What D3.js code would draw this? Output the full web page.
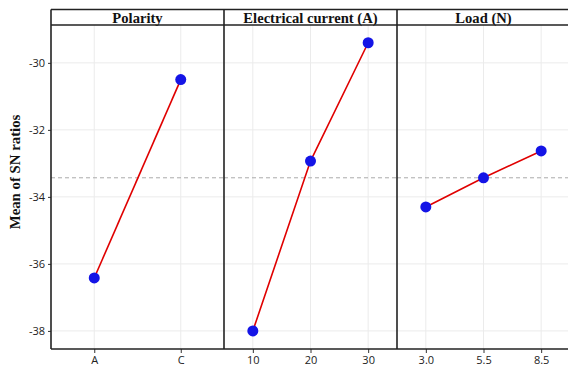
<!DOCTYPE html>
<html lang="en">
<head>
    <meta charset="UTF-8">
    <title>Main effects plot for SN ratios</title>
    <script src="https://d3js.org/d3.v7.min.js"></script>
    <style>
        body { margin: 0; background: #fff; }
        .tick text { font-family: "Open Sans", "Noto Sans", sans-serif; font-size: 11px; fill: #222; }
        .strip { font-family: "Liberation Serif", "Times New Roman", serif; font-weight: bold; font-size: 14.6px; fill: #111; }
        .ytitle { font-family: "Liberation Serif", "Times New Roman", serif; font-weight: bold; font-size: 14.8px; fill: #111; }
    </style>
</head>
<body>
    <script>
        // Factors and their levels
        const factors = ["Polarity", "Electrical current (A)", "Load (N)"];
        const polarityLevels = ["A", "C"];
        const currentLevels = ["10", "20", "30"];
        const loadLevels = ["3.0", "5.5", "8.5"];

        // Mean SN ratios
        const polarityValues = [-36.42, -30.5];
        const currentValues = [-38.0, -32.93, -29.4];
        const loadValues = [-34.3, -33.43, -32.63];

        const yTicks = [-30, -32, -34, -36, -38];
        const grandMean = -33.43;

        const width = 568, height = 368;
        const mLeft = 51, mRight = 570, plotTop = 25, stripTop = 9.5, plotBottom = 349;

        const svg = d3.select("body").append("svg")
            .attr("width", width)
            .attr("height", height);

        const panels = [
            { name: factors[0], levels: polarityLevels, values: polarityValues },
            { name: factors[1], levels: currentLevels, values: currentValues },
            { name: factors[2], levels: loadLevels, values: loadValues }
        ];

        const y = d3.scaleLinear().domain([-38.54, -28.87]).range([plotBottom, plotTop]);

        const panelX = d3.scaleBand().domain(factors).range([mLeft, mRight]);
        const pw = panelX.bandwidth();

        panels.forEach(p => {
            const x0 = panelX(p.name);
            const x = d3.scalePoint().domain(p.levels).range([x0, x0 + pw]).padding(0.5);

            const g = svg.append("g");

            // grid
            g.selectAll(".hg").data(yTicks).enter().append("line")
                .attr("x1", x0).attr("x2", x0 + pw)
                .attr("y1", d => y(d)).attr("y2", d => y(d))
                .attr("stroke", "#ebebeb").attr("stroke-width", 1);
            g.selectAll(".vg").data(p.levels).enter().append("line")
                .attr("x1", d => x(d)).attr("x2", d => x(d))
                .attr("y1", plotTop).attr("y2", plotBottom)
                .attr("stroke", "#ebebeb").attr("stroke-width", 1);

            // grand mean
            g.append("line")
                .attr("x1", x0).attr("x2", x0 + pw)
                .attr("y1", y(grandMean)).attr("y2", y(grandMean))
                .attr("stroke", "#aaa").attr("stroke-width", 1)
                .attr("stroke-dasharray", "4,3");

            // line + points
            const pts = p.levels.map((l, i) => [x(l), y(p.values[i])]);
            g.append("path")
                .attr("d", d3.line()(pts))
                .attr("fill", "none").attr("stroke", "#e00000").attr("stroke-width", 1.6);
            g.selectAll("circle").data(pts).enter().append("circle")
                .attr("cx", d => d[0]).attr("cy", d => d[1]).attr("r", 5.5)
                .attr("fill", "#1414e6");

            // x axis
            const ax = svg.append("g").attr("transform", `translate(0,${plotBottom})`)
                .call(d3.axisBottom(x).tickSize(4).tickPadding(3));
            ax.select(".domain").remove();
            ax.selectAll(".tick line").attr("stroke", "#333");

            // strip label
            svg.append("text").attr("class", "strip")
                .attr("x", x0 + pw / 2).attr("y", plotTop - 2)
                .attr("text-anchor", "middle").text(p.name);

            // panel separator
            if (x0 > mLeft) {
                svg.append("line").attr("x1", x0).attr("x2", x0)
                    .attr("y1", stripTop).attr("y2", plotBottom)
                    .attr("stroke", "#222").attr("stroke-width", 1.6);
            }
        });

        // strip borders
        svg.append("line").attr("x1", mLeft).attr("x2", mRight).attr("y1", stripTop).attr("y2", stripTop)
            .attr("stroke", "#222").attr("stroke-width", 1.6);
        svg.append("line").attr("x1", mLeft).attr("x2", mRight).attr("y1", plotTop).attr("y2", plotTop)
            .attr("stroke", "#222").attr("stroke-width", 1.6);

        // y axis
        const ay = svg.append("g").attr("transform", `translate(${mLeft},0)`)
            .call(d3.axisLeft(y).tickValues(yTicks).tickFormat(d => String(d)).tickSize(3).tickPadding(3));
        ay.select(".domain").remove();
        ay.selectAll(".tick line").attr("stroke", "#333");
        svg.append("line").attr("x1", mLeft).attr("x2", mLeft).attr("y1", stripTop).attr("y2", plotBottom)
            .attr("stroke", "#222").attr("stroke-width", 1.6);
        svg.append("line").attr("x1", mLeft).attr("x2", mRight).attr("y1", plotBottom).attr("y2", plotBottom)
            .attr("stroke", "#222").attr("stroke-width", 1.6);

        svg.append("text").attr("class", "ytitle")
            .attr("transform", `translate(20,172) rotate(-90)`)
            .attr("text-anchor", "middle").text("Mean of SN ratios");
    </script>
</body>
</html>
